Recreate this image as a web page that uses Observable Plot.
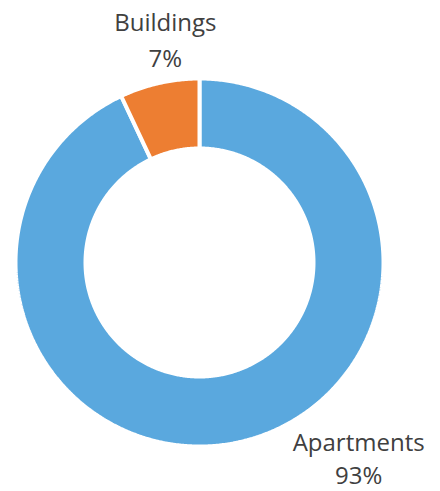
<!DOCTYPE html>
<html><head><meta charset="utf-8">
<script src="https://cdn.jsdelivr.net/npm/d3@7"></script>
<script src="https://cdn.jsdelivr.net/npm/@observablehq/plot@0.6"></script>
<style>html,body{margin:0;padding:0;background:#fff}</style>
</head><body><div id="chart"></div>
<script>
const categories = ["Apartments", "Buildings"];
const values = [93, 7];
const colors = ["#5AA8DE", "#ED7E32"];

// layout
const W = 440, H = 491;
const cx = 199, cy = 262, R = 184;
const innerRatio = 114 / 184;

const rows = categories.map((c, i) => ({name: c, value: values[i], color: colors[i]}));
const total = d3.sum(values);
const arcs = d3.pie().sort(null).value(d => d.value)(rows);

function slicePoints(a) {
  const a0 = a.startAngle, a1 = a.endAngle;
  const n = Math.max(4, Math.ceil((a1 - a0) / (Math.PI / 360)));
  const pts = [];
  for (let i = 0; i <= n; i++) {
    const t = a0 + (a1 - a0) * i / n;
    pts.push({x: Math.sin(t), y: Math.cos(t)});
  }
  for (let i = n; i >= 0; i--) {
    const t = a0 + (a1 - a0) * i / n;
    pts.push({x: innerRatio * Math.sin(t), y: innerRatio * Math.cos(t)});
  }
  pts.push(pts[0]);
  return pts;
}

const labelStyle = {
  Apartments: {dx: 119, dy: 42.4, lineHeight: 1.4},
  Buildings: {dx: 6, dy: -16.4, lineHeight: 1.47}
};

const marks = [];
arcs.forEach(a => {
  marks.push(Plot.line(slicePoints(a), {
    x: "x", y: "y", fill: a.data.color, stroke: "#fff", strokeWidth: 4,
    strokeLinejoin: "miter", curve: "linear"
  }));
});
arcs.forEach(a => {
  const mid = (a.startAngle + a.endAngle) / 2;
  const s = labelStyle[a.data.name];
  marks.push(Plot.text([a], {
    x: () => Math.sin(mid), y: () => Math.cos(mid),
    text: d => `${d.data.name}\n${Math.round(d.data.value / total * 100)}%`,
    textAnchor: "middle", lineAnchor: "bottom", lineHeight: s.lineHeight,
    dx: s.dx, dy: s.dy, fontSize: 24, fontFamily: "'Open Sans', 'Noto Sans', sans-serif",
    fill: "#404040"
  }));
});

const chart = Plot.plot({
  width: W, height: H, margin: 0,
  style: {background: "#fff", overflow: "visible"},
  x: {type: "linear", domain: [-1, 1], range: [cx - R, cx + R], axis: null},
  y: {type: "linear", domain: [-1, 1], range: [cy + R, cy - R], axis: null},
  marks
});
document.getElementById("chart").appendChild(chart);
</script>
</body></html>
